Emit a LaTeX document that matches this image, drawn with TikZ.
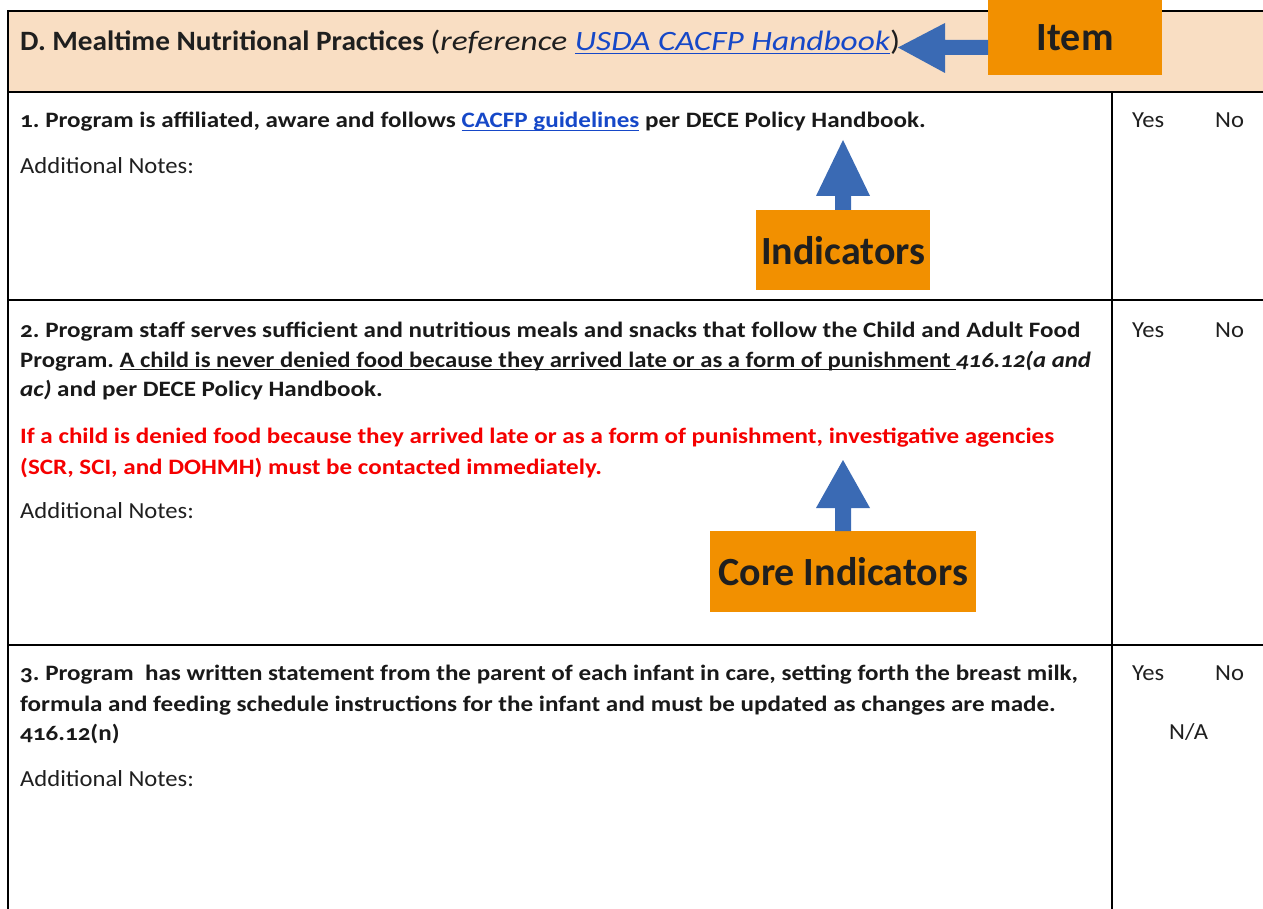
\documentclass[tikz,border=0pt]{standalone}
\usepackage{fontspec}
\setmainfont{Carlito}[Numbers=OldStyle]
\newfontfamily\regfont{Carlito}[Numbers=OldStyle, FakeStretch=1.07]
\newfontfamily\boldfont{Carlito}[Numbers=OldStyle, FakeStretch=1.14]
\newfontfamily\boldnarrowfont{Carlito}[Numbers=OldStyle, FakeStretch=1.123]
\newfontfamily\titleboldfont{Carlito}[Numbers=OldStyle, FakeStretch=1.045]
\newfontfamily\titleitfont{Carlito}[Numbers=OldStyle, FakeStretch=1.19]
\newfontfamily\labelfont{Carlito}
\usetikzlibrary{calc}
\frenchspacing
\definecolor{peach}{RGB}{249,222,195}
\definecolor{boxorange}{RGB}{242,144,0}
\definecolor{arrowblue}{RGB}{58,106,180}
\definecolor{linkblue}{RGB}{22,72,200}
\definecolor{alertred}{RGB}{245,0,0}
\newcommand{\uln}[1]{\setbox0\hbox{#1}\rlap{\rule[-3pt]{\wd0}{1.3pt}}\box0}
\newcommand{\lnk}[1]{{\color{linkblue}\uln{#1}}}
\tikzset{
  rule/.style={line width=1.4pt, black},
  txt/.style={anchor=base west, inner sep=0pt, text=black!88, font=\regfont\fontsize{23}{27}\selectfont},
  bold/.style={anchor=base west, inner sep=0pt, text=black!90, font=\boldfont\fontsize{22}{26}\selectfont\bfseries},
  lab/.style={fill=boxorange, inner sep=0pt, font=\labelfont\fontsize{40}{46}\selectfont\bfseries, text=black!88},
  blockarrow/.style={fill=arrowblue, draw=none}
}
\begin{document}
\begin{tikzpicture}[x=1pt,y=-1pt]
\useasboundingbox (0,0) rectangle (1263,909);
% header band
\fill[peach] (8,11) rectangle (1263,92);
% rules
\draw[rule] (1263,11) -- (8,11) -- (8,909);
\draw[rule] (8,92) -- (1263,92);
\draw[rule] (8,300) -- (1263,300);
\draw[rule] (8,645) -- (1263,645);
\draw[rule] (1112,92) -- (1112,909);
% header title
\node[anchor=base west, inner sep=0pt, text=black!88, font=\fontsize{28}{32}\selectfont] (title) at (20,51) {{\titleboldfont\bfseries D. Mealtime Nutritional Practices} {\titleitfont(\itshape reference \lnk{USDA CACFP Handbook}\upshape)}};
% item label
\node[lab, minimum width=174pt, minimum height=75pt, anchor=north west] (item) at (988,0) {Item};
\coordinate (itemtip) at (898,47.5);
\fill[blockarrow] (item.west |- 0,40) -- (945,40) -- (945,23) -- (itemtip) -- (945,73) -- (945,55) -- (item.west |- 0,55) -- cycle;
% row 1
\node[bold] (r1a) at (20,128) {1. Program is affiliated, aware and follows \lnk{CACFP guidelines} per DECE Policy Handbook.};
\node[txt] (r1n) at (20,174) {Additional Notes:};
\node[txt] (r1y) at (1132,128) {Yes};
\node[txt] (r1no) at (1215,128) {No};
\node[lab, minimum width=174pt, minimum height=80pt, anchor=north west] (ind) at (756,210) {Indicators};
\coordinate (indtip) at (843,140);
\fill[blockarrow] ($(ind.north)+(-8,0)$) -- (835,196) -- (816,196) -- (indtip) -- (870,196) -- (851,196) -- ($(ind.north)+(8,0)$) -- cycle;
% row 2
\node[bold] (r2a) at (20,337) {2. Program staff serves sufficient and nutritious meals and snacks that follow the Child and Adult Food};
\node[bold, font=\boldnarrowfont\fontsize{22}{26}\selectfont\bfseries] (r2b) at (20,367) {Program. \uln{A child is never denied food because they arrived late or as a form of punishment }\textit{416.12(a and}};
\node[bold] (r2c) at (20,396) {\textit{ac)} and per DECE Policy Handbook.};
\node[bold, text=alertred] (r2d) at (20,443) {If a child is denied food because they arrived late or as a form of punishment, investigative agencies};
\node[bold, text=alertred] (r2e) at (20,474) {(SCR, SCI, and DOHMH) must be contacted immediately.};
\node[txt] (r2n) at (20,518) {Additional Notes:};
\node[txt] (r2y) at (1132,337) {Yes};
\node[txt] (r2no) at (1215,337) {No};
\node[lab, minimum width=266pt, minimum height=81pt, anchor=north west] (core) at (710,531) {Core Indicators};
\coordinate (coretip) at (843,460);
\fill[blockarrow] ($(core.north)+(-8,0)$) -- (835,508) -- (816,508) -- (coretip) -- (870,508) -- (851,508) -- ($(core.north)+(8,0)$) -- cycle;
% row 3
\node[bold] (r3a) at (20,680) {3. Program\ \ has written statement from the parent of each infant in care, setting forth the breast milk,};
\node[bold] (r3b) at (20,711) {formula and feeding schedule instructions for the infant and must be updated as changes are made.};
\node[bold] (r3c) at (20,740) {416.12(n)};
\node[txt] (r3n) at (20,786) {Additional Notes:};
\node[txt] (r3y) at (1132,680) {Yes};
\node[txt] (r3no) at (1215,680) {No};
\node[txt] (r3na) at (1169,739) {N/A};
\end{tikzpicture}
\end{document}
